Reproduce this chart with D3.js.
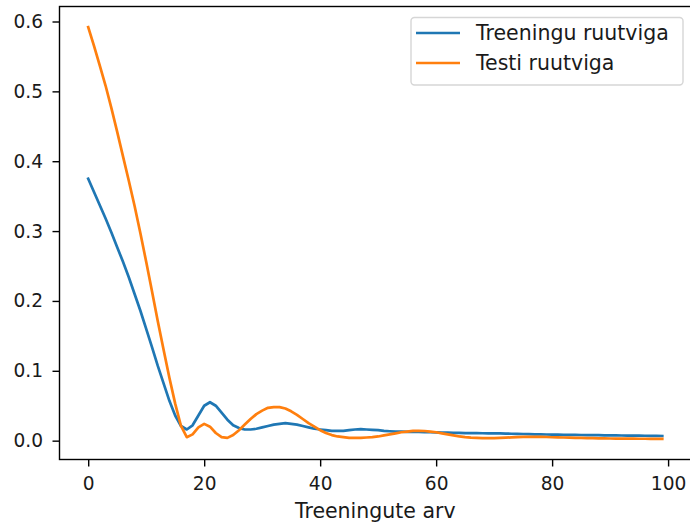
<!DOCTYPE html>
<html>
<head>
<meta charset="utf-8">
<script src="https://cdn.jsdelivr.net/npm/d3@7"></script>
<style>
  html, body { margin: 0; padding: 0; background: #fff; }
  svg { display: block; }
  text { font-family: "DejaVu Sans", sans-serif; fill: #1a1a1a; }
</style>
</head>
<body>
<svg id="chart" width="690" height="524"></svg>
<script>
// Mean squared error per training round (epochs 0..99)
const seriesNames = ["Treeningu ruutviga", "Testi ruutviga"];
const seriesColors = ["#1f77b4", "#ff7f0e"];

const trainError = [
  0.375, 0.356, 0.337, 0.318, 0.298, 0.277, 0.256, 0.234, 0.210, 0.186,
  0.160, 0.134, 0.107, 0.082, 0.057, 0.036, 0.021, 0.016, 0.022, 0.036,
  0.050, 0.055, 0.050, 0.040, 0.030, 0.022, 0.018, 0.016, 0.016, 0.017,
  0.019, 0.021, 0.023, 0.024, 0.025, 0.024, 0.023, 0.021, 0.019, 0.017,
  0.016, 0.015, 0.014, 0.014, 0.014, 0.015, 0.016, 0.0165, 0.016, 0.0155,
  0.015, 0.014, 0.0135, 0.013, 0.0128, 0.0125, 0.0125, 0.0125, 0.0122, 0.012,
  0.0118, 0.0116, 0.0114, 0.0112, 0.011, 0.0109, 0.0108, 0.0107, 0.0106, 0.0105,
  0.0104, 0.0103, 0.0101, 0.0099, 0.0097, 0.0095, 0.0093, 0.0091, 0.009, 0.0088,
  0.0087, 0.0085, 0.0084, 0.0083, 0.0082, 0.0081, 0.008, 0.0079, 0.0078, 0.0077,
  0.0076, 0.0075, 0.0074, 0.0073, 0.0072, 0.0071, 0.007, 0.0069, 0.0068, 0.0067
];

const testError = [
  0.592, 0.565, 0.537, 0.508, 0.476, 0.442, 0.407, 0.372, 0.336, 0.297,
  0.256, 0.214, 0.171, 0.130, 0.090, 0.053, 0.021, 0.005, 0.009, 0.019,
  0.024, 0.020, 0.011, 0.005, 0.004, 0.008, 0.015, 0.023, 0.031, 0.038,
  0.043, 0.047, 0.048, 0.048, 0.046, 0.042, 0.037, 0.031, 0.025, 0.020,
  0.015, 0.011, 0.008, 0.006, 0.005, 0.004, 0.004, 0.004, 0.0045, 0.005,
  0.006, 0.0075, 0.009, 0.0105, 0.012, 0.013, 0.014, 0.014, 0.0138, 0.013,
  0.012, 0.0105, 0.009, 0.0075, 0.006, 0.005, 0.0043, 0.004, 0.0037, 0.0036,
  0.0037, 0.004, 0.0043, 0.0047, 0.005, 0.0053, 0.0055, 0.0055, 0.0054, 0.0052,
  0.0049, 0.0047, 0.0045, 0.0043, 0.0041, 0.0039, 0.0037, 0.0035, 0.0033, 0.0032,
  0.0031, 0.003, 0.0029, 0.0028, 0.0028, 0.0027, 0.0027, 0.0026, 0.0026, 0.0025
];

const xTicks = [0, 20, 40, 60, 80, 100];
const yTicks = [0.0, 0.1, 0.2, 0.3, 0.4, 0.5, 0.6];
const xLabel = "Treeningute arv";

const svg = d3.select("#chart");
const frame = { left: 59.5, right: 691, top: 6.5, bottom: 459.5 };

const series = [trainError, testError];
const epochs = d3.range(trainError.length);

// 5% padding on both axes around the data extent
const xMin = 0, xMax = epochs.length - 1;
const xPad = (xMax - xMin) * 0.05;
const allVals = trainError.concat(testError);
const [yMin, yMax] = d3.extent(allVals);
const yPad = (yMax - yMin) * 0.05;

const x = d3.scaleLinear().domain([xMin - xPad, xMax + xPad]).range([frame.left, frame.right]);
const y = d3.scaleLinear().domain([yMin - yPad, yMax + yPad]).range([frame.bottom, frame.top]);

const tickFont = 18.6;
const labelFont = 20.5;

// Curves
const line = d3.line().x((d, i) => x(i)).y(d => y(d));
series.forEach((vals, k) => {
  svg.append("path")
    .datum(vals)
    .attr("d", line)
    .attr("fill", "none")
    .attr("stroke", seriesColors[k])
    .attr("stroke-width", 2.7)
    .attr("stroke-linejoin", "round")
    .attr("stroke-linecap", "square");
});

// Axes
const xAxis = d3.axisBottom(x).tickValues(xTicks).tickFormat(d3.format("d")).tickSize(7).tickPadding(10);
const yAxis = d3.axisLeft(y).tickValues(yTicks).tickFormat(d3.format(".1f")).tickSize(7).tickPadding(9.5);

const gx = svg.append("g").attr("transform", `translate(0,${frame.bottom})`).call(xAxis);
const gy = svg.append("g").attr("transform", `translate(${frame.left},0)`).call(yAxis);

[gx, gy].forEach(g => {
  g.select(".domain").remove();
  g.selectAll(".tick line").attr("stroke", "#000").attr("stroke-width", 1.4);
  g.selectAll(".tick text").attr("font-size", tickFont).attr("font-family", "DejaVu Sans").attr("fill", "#1a1a1a");
});

// Frame spines
svg.append("rect")
  .attr("x", frame.left).attr("y", frame.top)
  .attr("width", frame.right - frame.left).attr("height", frame.bottom - frame.top)
  .attr("fill", "none").attr("stroke", "#000").attr("stroke-width", 1.4);

// Axis title
svg.append("text")
  .attr("x", (frame.left + frame.right) / 2)
  .attr("y", 518)
  .attr("text-anchor", "middle")
  .attr("font-size", labelFont)
  .text(xLabel);

// Legend
const legend = svg.append("g");
legend.append("rect")
  .attr("x", 411).attr("y", 17.5)
  .attr("width", 272).attr("height", 67.5)
  .attr("rx", 3.5).attr("ry", 3.5)
  .attr("fill", "#fff").attr("fill-opacity", 0.8)
  .attr("stroke", "#d6d6d6").attr("stroke-width", 1.4);

seriesNames.forEach((name, k) => {
  const cy = 33 + k * 30;
  legend.append("line")
    .attr("x1", 416).attr("x2", 460)
    .attr("y1", cy).attr("y2", cy)
    .attr("stroke", seriesColors[k]).attr("stroke-width", 2.7);
  legend.append("text")
    .attr("x", 476).attr("y", cy)
    .attr("dy", "0.36em")
    .attr("font-size", labelFont)
    .text(name);
});
</script>
</body>
</html>
